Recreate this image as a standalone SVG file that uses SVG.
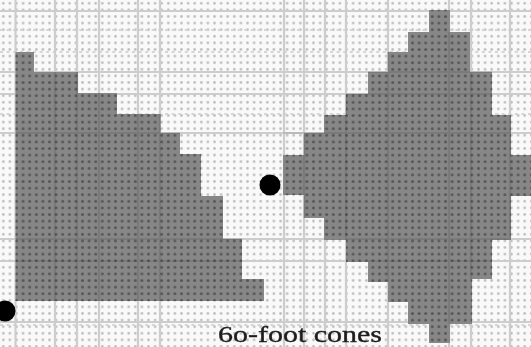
<svg xmlns="http://www.w3.org/2000/svg" width="531" height="347" viewBox="0 0 531 347">
<style>
.g{stroke:#cdcdcd;stroke-width:2.2;fill:none}
.r{stroke:#d6d6d6;stroke-width:2;stroke-dasharray:3 3.6;fill:none}
.s{fill:#878787}
text{font-family:"Liberation Serif","Times New Roman",serif;font-size:23px;fill:#1c1c1c;stroke:#1c1c1c;stroke-width:.35}
</style>
<defs>
<pattern id="p" width="6.6" height="6.6" patternUnits="userSpaceOnUse">
<rect width="6.6" height="6.6" fill="#f9f9f9"/>
<circle cx="3.3" cy="3.3" r="1.3" fill="#bdbdbd"/>
</pattern>
<pattern id="q" width="6.6" height="6.6" patternUnits="userSpaceOnUse">
<circle cx="3.3" cy="3.3" r="1.5" fill="#565656"/>
</pattern>
<filter id="b" x="-5%" y="-5%" width="110%" height="110%"><feGaussianBlur stdDeviation="0.75"/></filter>
</defs>
<g filter="url(#b)">
<rect width="531" height="347" fill="url(#p)"/>
<path class="r" d="M0 30H531M0 52H531M0 114H531M0 325H531"/>
<path class="g" d="M15.5 0V347M55 0V347M77 0V347M99 0V347M138 0V347M160 0V347M284 0V347M304 0V347M325 0V347M346 0V347M388 0V347M449 0V347M471 0V347M510 0V347"/>
<path class="g" d="M0 11H531M0 72H531M0 94H531M0 133H531M0 239H531M0 261H531M0 322H531"/>
<path id="left-cone" class="s" d="M15.5 52H34V72H78V93H117V114H160.5V133H180V154H201V196H223V239H242V279H264V301H15.5Z"/>
<path id="right-cone" class="s" d="M429 10H450V32H470V72H492V115H511V155H531V196H511V240H492V279H472V324H450V343H429V324H408V302H388V282H368V262H346V240H324V218H304V195H283V155H304V133H324V115H346V94H368V72H388V52H408V32H429Z"/>
<path fill="url(#q)" d="M15.5 52H34V72H78V93H117V114H160.5V133H180V154H201V196H223V239H242V279H264V301H15.5Z"/>
<path fill="url(#q)" d="M429 10H450V32H470V72H492V115H511V155H531V196H511V240H492V279H472V324H450V343H429V324H408V302H388V282H368V262H346V240H324V218H304V195H283V155H304V133H324V115H346V94H368V72H388V52H408V32H429Z"/>
<path stroke="#000" stroke-opacity=".09" stroke-width="2.2" fill="none" d="M55 72V301M77 72V301M99 93V301M138 114V301M160 114V301M304 133V218M346 94V240M388 52V282M449 32V324M471 72V279M510 115V240M15.5 133H180M283 133H511M15.5 239H242M15.5 261H242M346 239H511M368 261H492M368 72H492M346 94H492"/>
<circle id="dot-left" cx="5" cy="311" r="10.5" fill="#000"/>
<circle id="dot-centre" cx="270" cy="185" r="10.5" fill="#000"/>
</g>
<text x="218" y="341.5" textLength="164" lengthAdjust="spacingAndGlyphs" filter="url(#b)">6o-foot cones</text>
</svg>
